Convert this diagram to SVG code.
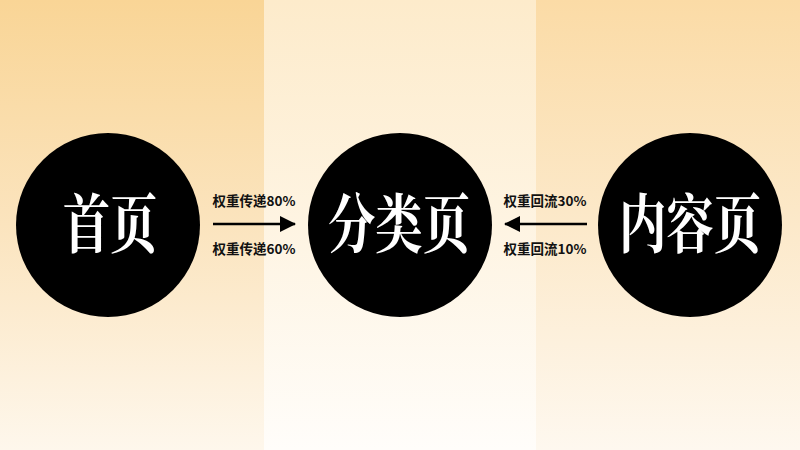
<svg xmlns="http://www.w3.org/2000/svg" width="800" height="450" viewBox="0 0 800 450">
  <style>
    .node { fill: #000000; }
    .title { font-family: "Noto Serif CJK SC", "Noto Sans CJK SC", serif; font-weight: 700; font-size: 64px; fill: #ffffff; text-anchor: middle; }
    .label { font-family: "Noto Sans CJK SC", sans-serif; font-weight: 700; font-size: 13.5px; fill: #111111; text-anchor: middle; }
    .conn { stroke: #000000; stroke-width: 2.5; fill: none; }
  </style>
  <defs>
    <linearGradient id="bgL" x1="0" y1="0" x2="0" y2="1">
      <stop offset="0" stop-color="#F9D596"/>
      <stop offset="0.5" stop-color="#FBE4BE"/>
      <stop offset="1" stop-color="#FEF7EC"/>
    </linearGradient>
    <linearGradient id="bgM" x1="0" y1="0" x2="0" y2="1">
      <stop offset="0" stop-color="#FDEBCB"/>
      <stop offset="0.5" stop-color="#FEF4E2"/>
      <stop offset="1" stop-color="#FFFDFA"/>
    </linearGradient>
    <linearGradient id="bgR" x1="0" y1="0" x2="0" y2="1">
      <stop offset="0" stop-color="#FBDBA6"/>
      <stop offset="0.5" stop-color="#FCE9CA"/>
      <stop offset="1" stop-color="#FEF8EF"/>
    </linearGradient>
    <marker id="arrow" viewBox="0 0 16 16" refX="15" refY="8" markerWidth="16" markerHeight="16" markerUnits="userSpaceOnUse" orient="auto">
      <path d="M0,0 L16,8 L0,16 Z" fill="#000000"/>
    </marker>
  </defs>

  <g id="background">
    <rect x="0" y="0" width="264" height="450" fill="url(#bgL)"/>
    <rect x="264" y="0" width="272" height="450" fill="url(#bgM)"/>
    <rect x="536" y="0" width="264" height="450" fill="url(#bgR)"/>
  </g>

  <g id="connectors">
    <line class="conn" x1="213" y1="224" x2="295" y2="224" marker-end="url(#arrow)"/>
    <line class="conn" x1="587" y1="224" x2="505" y2="224" marker-end="url(#arrow)"/>
    <text class="label" x="254" y="206">权重传递80%</text>
    <text class="label" x="254" y="254">权重传递60%</text>
    <text class="label" x="545" y="206">权重回流30%</text>
    <text class="label" x="545" y="254">权重回流10%</text>
  </g>

  <g id="node-home">
    <circle class="node" cx="108" cy="225" r="92"/>
    <g transform="translate(110,247) scale(0.74,1)">
      <text class="title" x="0" y="0">首页</text>
    </g>
  </g>

  <g id="node-category">
    <circle class="node" cx="400" cy="225" r="92"/>
    <g transform="translate(399,247) scale(0.74,1)">
      <text class="title" x="0" y="0">分类页</text>
    </g>
  </g>

  <g id="node-content">
    <circle class="node" cx="690" cy="225" r="92"/>
    <g transform="translate(690,247) scale(0.74,1)">
      <text class="title" x="0" y="0">内容页</text>
    </g>
  </g>
</svg>
